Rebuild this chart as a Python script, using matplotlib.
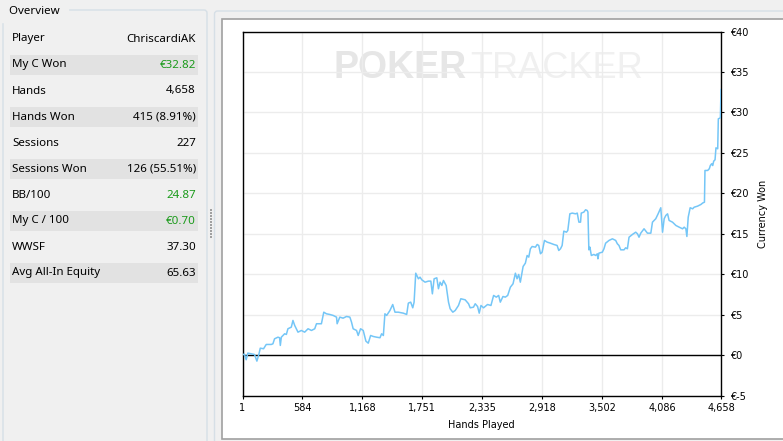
import matplotlib
matplotlib.use("Agg")
import matplotlib.pyplot as plt
import matplotlib.patches as mpatches
from matplotlib.ticker import FuncFormatter

# overview panel
STAT_LABELS = ["Player", "My C Won", "Hands", "Hands Won", "Sessions",
               "Sessions Won", "BB/100", "My C / 100", "WWSF", "Avg All-In Equity"]
STAT_VALUES = ["ChriscardiAK", "€32.82", "4,658", "415 (8.91%)", "227",
               "126 (55.51%)", "24.87", "€0.70", "37.30", "65.63"]
GREEN_STATS = ["My C Won", "BB/100", "My C / 100"]

# graph
X_TICKS = [1, 584, 1168, 1751, 2335, 2918, 3502, 4086, 4658]
Y_TICKS = [-5, 0, 5, 10, 15, 20, 25, 30, 35, 40]

HANDS = [1, 4, 20, 37, 53, 86, 118, 141, 160, 174, 206, 232, 281, 297, 313, 346,
         362, 369, 379, 411, 428, 443, 476, 492, 509, 541, 574, 606, 639, 672, 704,
         721, 769, 792, 818, 850, 883, 916, 922, 948, 980, 1013, 1046, 1062, 1078,
         1111, 1127, 1150, 1176, 1202, 1225, 1248, 1273, 1306, 1339, 1355, 1372,
         1387, 1404, 1436, 1463, 1485, 1517, 1566, 1599, 1615, 1638, 1658, 1671,
         1687, 1713, 1729, 1746, 1778, 1810, 1834, 1849, 1866, 1892, 1908, 1924,
         1941, 1957, 1983, 2006, 2022, 2048, 2071, 2103, 2126, 2168, 2201, 2217,
         2249, 2266, 2289, 2305, 2322, 2347, 2386, 2419, 2445, 2471, 2494, 2510,
         2536, 2559, 2582, 2608, 2634, 2657, 2673, 2689, 2705, 2732, 2754, 2771,
         2787, 2803, 2820, 2852, 2869, 2884, 2901, 2917, 2940, 2966, 2998, 3031,
         3063, 3079, 3096, 3112, 3128, 3154, 3167, 3187, 3210, 3242, 3259, 3275,
         3291, 3298, 3323, 3340, 3356, 3363, 3372, 3382, 3396, 3421, 3438, 3454,
         3460, 3470, 3503, 3519, 3535, 3568, 3601, 3633, 3649, 3665, 3682, 3714,
         3730, 3747, 3763, 3796, 3828, 3845, 3860, 3877, 3909, 3926, 3942, 3975,
         3991, 4023, 4046, 4072, 4089, 4105, 4121, 4138, 4153, 4186, 4219, 4251,
         4284, 4300, 4316, 4326, 4339, 4358, 4382, 4397, 4430, 4463, 4480, 4497,
         4502, 4528, 4544, 4554, 4567, 4577, 4587, 4600, 4609, 4626, 4632, 4652,
         4658]
WON = [0.0, 0.07, 0.1, -0.58, 0.24, 0.16, 0.07, -0.75, 0.07, 0.85, 0.78, 1.31,
       1.31, 1.39, 2.01, 2.21, 2.14, 1.19, 2.21, 2.63, 2.55, 3.25, 3.45, 4.28, 3.66,
       2.83, 3.04, 2.83, 3.25, 3.04, 3.25, 3.87, 3.87, 5.3, 5.1, 5.02, 4.9, 4.69,
       3.87, 4.69, 4.56, 4.77, 4.69, 4.07, 3.25, 3.04, 2.42, 3.25, 3.04, 1.72,
       1.47, 2.42, 2.3, 2.21, 2.14, 2.63, 2.42, 5.1, 4.9, 5.51, 6.25, 5.3, 5.3,
       5.18, 5.02, 6.42, 6.54, 5.84, 6.54, 10.12, 9.43, 9.63, 9.3, 9.01, 9.14,
       9.14, 7.57, 9.43, 9.55, 8.2, 9.01, 8.6, 9.22, 8.6, 6.54, 5.72, 5.3, 5.51,
       6.13, 6.96, 6.83, 6.34, 5.84, 5.92, 6.34, 6.0, 5.18, 6.13, 5.84, 6.25,
       6.13, 7.37, 7.16, 7.37, 6.54, 7.24, 7.16, 7.37, 8.39, 8.81, 10.12, 9.43,
       9.96, 9.01, 10.95, 11.36, 12.31, 12.11, 13.14, 13.42, 13.34, 13.67, 13.55,
       12.52, 12.72, 14.17, 13.96, 13.83, 13.67, 13.55, 12.93, 13.14, 13.55,
       15.32, 15.19, 15.4, 17.46, 17.55, 17.46, 17.55, 16.43, 16.43, 17.55, 17.67,
       17.96, 17.87, 17.67, 13.01, 13.34, 12.31, 12.44, 12.31, 12.52, 11.9, 12.6,
       12.72, 13.14, 13.83, 14.17, 14.37, 14.17, 13.76, 13.55, 13.01, 13.01,
       13.26, 13.14, 14.57, 14.91, 15.19, 14.99, 14.57, 15.07, 15.61, 15.32,
       15.07, 15.07, 16.43, 16.85, 17.46, 18.21, 15.19, 16.85, 17.26, 17.46,
       16.64, 16.43, 16.02, 15.81, 15.61, 15.81, 15.61, 14.66, 17.05, 18.21,
       18.08, 18.28, 18.41, 18.62, 18.8, 18.9, 22.82, 22.82, 23.03, 23.43, 23.65,
       23.43, 23.97, 24.14, 25.62, 25.5, 29.2, 29.33, 32.82]

W, H = 783, 441
UI_FONT = ["Noto Sans", "DejaVu Sans"]
GREEN = "#1a9a1a"

fig = plt.figure(figsize=(W / 100, H / 100), dpi=100, facecolor="#f0f0f0")

# background layer in pixel coordinates
bg = fig.add_axes([0, 0, 1, 1])
bg.set_xlim(0, W)
bg.set_ylim(H, 0)
bg.axis("off")

# left "Overview" group box
bg.add_patch(mpatches.FancyBboxPatch((3, 10), 204, 440, boxstyle="round,pad=0,rounding_size=3",
                                     facecolor="#f0f0f0", edgecolor="#d6dfe6", linewidth=1))
bg.text(6, 11, " Overview ", fontsize=8.3, family=UI_FONT, va="center", ha="left",
        color="#000000", backgroundcolor="#f0f0f0")

for i, (label, value) in enumerate(zip(STAT_LABELS, STAT_VALUES)):
    yc = 39 + i * 26
    if i % 2 == 1:
        bg.add_patch(mpatches.Rectangle((10, yc - 10), 188, 20, facecolor="#e2e2e2",
                                        edgecolor="none"))
    bg.text(12, yc, label, fontsize=8.3, family=UI_FONT, va="center", ha="left")
    bg.text(196, yc, value, fontsize=8.3, family=UI_FONT, va="center", ha="right",
            color=GREEN if label in GREEN_STATS else "black")

# splitter grip
for k in range(10):
    bg.add_patch(mpatches.Rectangle((210, 209 + k * 3), 1.5, 1.5, facecolor="#a0a0a0",
                                    edgecolor="none"))

# right panel
bg.add_patch(mpatches.FancyBboxPatch((214.5, 11), 600, 440, boxstyle="round,pad=0,rounding_size=3",
                                     facecolor="#f0f0f0", edgecolor="#d6dfe6", linewidth=1))
bg.add_patch(mpatches.Rectangle((222, 19), 600, 420, facecolor="white",
                                edgecolor="#a0a0a0", linewidth=1.2))

# watermark
bg.text(333, 68, "POKER", fontsize=27, family=["Liberation Sans", "DejaVu Sans"],
        fontweight="bold", color="#e6e6e6", va="center", ha="left")
bg.text(470, 68, "TRACKER", fontsize=26, family=["Liberation Sans", "DejaVu Sans"],
        color="#f0f0f0", va="center", ha="left")

# graph
left, right, top, bottom = 242.5, 721, 31.5, 395.5
ax = fig.add_axes([left / W, 1 - bottom / H, (right - left) / W, (bottom - top) / H])
ax.patch.set_alpha(0)
ax.set_xlim(X_TICKS[0], X_TICKS[-1])
ax.set_ylim(Y_TICKS[0], Y_TICKS[-1])

ax.set_xticks(X_TICKS)
ax.set_yticks(Y_TICKS)
ax.xaxis.set_major_formatter(FuncFormatter(lambda v, p: f"{int(round(v)):,}"))
ax.yaxis.set_major_formatter(FuncFormatter(lambda v, p: f"€{int(round(v))}"))
ax.yaxis.tick_right()
ax.yaxis.set_label_position("right")
ax.tick_params(axis="both", direction="out", length=2.5, width=0.8, labelsize=7,
               colors="black")
ax.tick_params(axis="x", pad=3)
ax.tick_params(axis="y", pad=4)
ax.grid(True, color="#ececec", linewidth=1)
ax.set_axisbelow(True)
for spine in ax.spines.values():
    spine.set_color("black")
    spine.set_linewidth(1)

ax.axhline(0, color="black", linewidth=1, zorder=2)
ax.plot(HANDS, WON, color="#74c6f7", linewidth=1.1, zorder=3)

ax.set_xlabel("Hands Played", fontsize=7, labelpad=5)
ax.set_ylabel("Currency Won", fontsize=7, labelpad=7, rotation=90)

fig.savefig("out.png", dpi=100, facecolor=fig.get_facecolor())
